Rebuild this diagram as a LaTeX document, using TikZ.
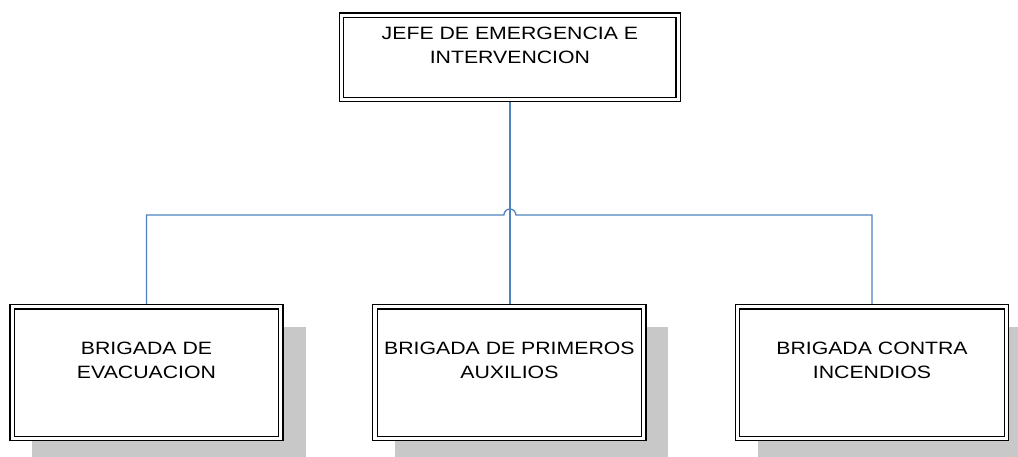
\documentclass[tikz,border=0pt]{standalone}
\usepackage{fontspec}
\setmainfont{Liberation Sans}[FakeStretch=1.19]
\usetikzlibrary{backgrounds}

\definecolor{linkblue}{RGB}{79,129,189}
\definecolor{shadegray}{RGB}{200,200,200}

\tikzset{
  unitbox/.style={draw=black, line width=0.9pt, double=white, double distance=2.4pt,
    fill=white, outer sep=0pt, inner sep=0pt},
  topbox/.style={unitbox, minimum width=252.5pt, minimum height=63.1pt},
  brigbox/.style={unitbox, minimum width=201.5pt, minimum height=98.7pt},
  boxtext/.style={anchor=north, align=center, inner sep=0pt,
    font=\fontsize{13.4pt}{18.2pt}\selectfont},
  link/.style={draw=linkblue, line width=0.95pt},
}

\begin{document}
\begin{tikzpicture}[x=0.75pt,y=-0.75pt]
\useasboundingbox (0,0) rectangle (1018,457);

% Boxes
\node[topbox] (jefe) at (509.9,57.3) {};
\node[brigbox] (evac) at (146.5,372.5) {};
\node[brigbox] (prim) at (509.4,372.5) {};
\node[brigbox] (inc) at (872,372.5) {};

% Texts
\node[boxtext] (jefetxt) at (509.9,26.7) {JEFE DE EMERGENCIA E\\INTERVENCION};
\node[boxtext] (evactxt) at (146.5,341.7) {BRIGADA DE\\EVACUACION};
\node[boxtext] (primtxt) at (509.4,341.7) {BRIGADA DE PRIMEROS\\AUXILIOS};
\node[boxtext] (inctxt) at (872,341.7) {BRIGADA CONTRA\\INCENDIOS};

\begin{scope}[on background layer]
% Shadows
\foreach \b in {evac,prim,inc}{
  \fill[shadegray] ([shift={(20.3,20.3)}]\b.north west) rectangle ([shift={(24.7,24.7)}]\b.south east);
}

% Links
\coordinate (hop) at (jefe.south |- 0,215);
\draw[link] (jefe.south) -- (jefe.south |- prim.north);
\draw[link] (evac.north) -- (evac.north |- hop) -- ([xshift=-4.5pt]hop)
  arc[start angle=180, end angle=0, radius=4.5pt] -- (inc.north |- hop) -- (inc.north);
\end{scope}

\end{tikzpicture}
\end{document}
